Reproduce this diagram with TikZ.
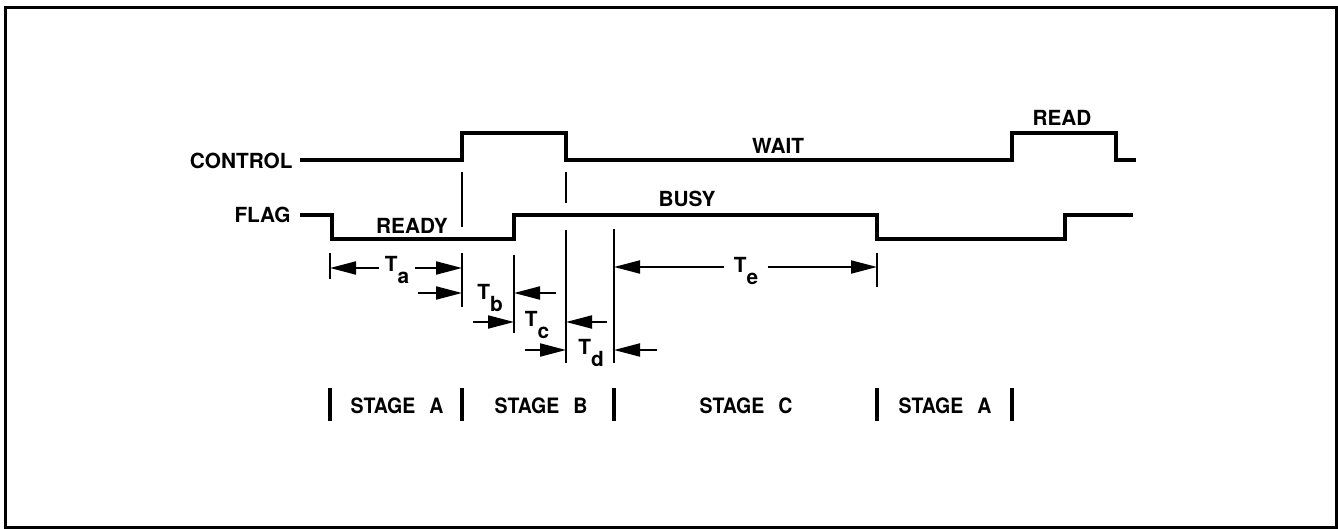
\documentclass[tikz,border=0pt]{standalone}
\usepackage{fontspec}
\setmainfont{TeX Gyre Heros}
\newfontfamily\stagefont[FakeStretch=0.92]{TeX Gyre Heros}
\usepackage{tikz}
\usetikzlibrary{arrows.meta, positioning, calc}

% T con subíndice
\newcommand{\tlab}[1]{T\raisebox{-6pt}{#1}}

\begin{document}
\begin{tikzpicture}[
        x=0.5pt, y=-0.5pt,
        >={Triangle[length=13pt, width=6.5pt]},
        signal/.style={line width=1.6pt, line join=miter},
        guide/.style={line width=1pt},
        dim/.style={->, line width=1pt},
        stagebar/.style={line width=1.8pt},
        lbl/.style={font=\fontsize{10.4}{12}\selectfont\bfseries, inner sep=2pt},
        tlabel/.style={font=\fontsize{10.4}{12}\selectfont\bfseries, inner sep=2.5pt},
        stage/.style={font=\stagefont\fontsize{10.6}{12}\selectfont\bfseries, inner sep=0pt}
    ]
        \useasboundingbox (0,0) rectangle (1338,529);
        % Marco exterior
        \draw[line width=1.5pt] (5,8) rectangle (1336,527);

        % Flancos (x) y filas de cotas (y)
        \coordinate (e1) at (330,0);
        \coordinate (e2) at (462,0);
        \coordinate (e3) at (514,0);
        \coordinate (e4) at (566,0);
        \coordinate (e5) at (614,0);
        \coordinate (e6) at (877,0);
        \coordinate (e7) at (1012,0);
        \coordinate (ya) at (0,268);
        \coordinate (yb) at (0,293);
        \coordinate (yc) at (0,322);
        \coordinate (yd) at (0,350);
        \coordinate (ye) at (0,267);

        % Señales
        \node[lbl, anchor=east] (ctrl) at (297,161) {CONTROL};
        \node[lbl, anchor=east] (flag) at (295,215) {FLAG};
        \draw[signal] (300,160) -| (462,133) -| (566,160) -| (1012,133) -| (1116,160) -- (1136,160);
        \draw[signal] (300,215) -| (332,239) -| (514,215) -| (877,239) -| (1065,215) -- (1133,215);

        \node[lbl] (ready) at (412,226) {READY};
        \node[lbl] (wait) at (778,146) {WAIT};
        \node[lbl] (busy) at (687,199) {BUSY};
        \node[lbl] (read) at (1062,118) {READ};

        % Líneas de referencia
        \draw[guide] (e2 |- 0,172) -- (e2 |- 0,227);
        \draw[guide] (e2 |- 0,253) -- (e2 |- 0,307);
        \draw[guide] (e1 |- 0,253) -- (e1 |- 0,279);
        \draw[guide] (e3 |- 0,255) -- (e3 |- 0,333);
        \draw[guide] (e4 |- 0,172) -- (e4 |- 0,203);
        \draw[guide] (e4 |- 0,230) -- (e4 |- 0,363);
        \draw[guide] (e5 |- 0,229) -- (e5 |- 0,363);
        \draw[guide] (e6 |- 0,253) -- (e6 |- 0,287);

        % Cotas de tiempo
        \node[tlabel] (ta) at (397,270) {\tlab{a}};
        \node[tlabel] (tb) at (490,298) {\tlab{b}};
        \node[tlabel] (tc) at (537,325) {\tlab{c}};
        \node[tlabel] (td) at (591,353) {\tlab{d}};
        \node[tlabel, inner sep=4.5pt] (te) at (746,271) {\tlab{e}};

        \draw[dim] (ta.west |- ya) -- (e1 |- ya);
        \draw[dim] (ta.east |- ya) -- (e2 |- ya);
        \draw[dim] ($(e2 |- yb)+(-44,0)$) -- (e2 |- yb);
        \draw[dim] ($(e3 |- yb)+(42,0)$) -- (e3 |- yb);
        \draw[dim] ($(e3 |- yc)+(-41,0)$) -- (e3 |- yc);
        \draw[dim] ($(e4 |- yc)+(41,0)$) -- (e4 |- yc);
        \draw[dim] ($(e4 |- yd)+(-41,0)$) -- (e4 |- yd);
        \draw[dim] ($(e5 |- yd)+(43,0)$) -- (e5 |- yd);
        \draw[dim] (te.west |- ye) -- (e5 |- ye);
        \draw[dim] (te.east |- ye) -- (e6 |- ye);

        % Etapas
        \foreach \e in {e1, e2, e5, e6, e7}
            \draw[stagebar] (\e |- 0,388) -- (\e |- 0,421);
        \node[stage] (sa1) at (397,406) {STAGE\hspace{7pt}A};
        \node[stage] (sb) at (541,406) {STAGE\hspace{7pt}B};
        \node[stage] (sc) at (746,406) {STAGE\hspace{7pt}C};
        \node[stage] (sa2) at (945,406) {STAGE\hspace{7pt}A};

    \end{tikzpicture}
\end{document}
